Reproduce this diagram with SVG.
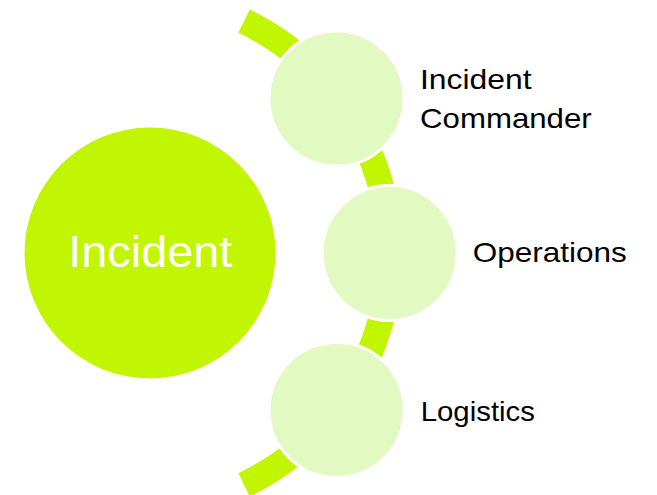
<svg xmlns="http://www.w3.org/2000/svg" width="657" height="495" viewBox="0 0 657 495">
  <style>
    .sub { fill: #E2F9C2; stroke: #FFFFFF; stroke-width: 3; }
    .lbl { font-family: "Liberation Sans", Arial, sans-serif; font-size: 28px; fill: #000000; }
    .main { font-family: "Liberation Sans", Arial, sans-serif; font-size: 45px; fill: #FFFFFF; text-anchor: middle; }
  </style>
  <rect width="657" height="495" fill="#FFFFFF"/>
  <g id="connectors">
    <path d="M 244.1 21.1 A 257.6 257.6 0 0 1 244.1 484.9" fill="none" stroke="#C1F501" stroke-width="26"/>
  </g>
  <g id="node-incident">
    <circle cx="150" cy="253" r="125.5" fill="#C1F501"/>
    <text class="main" x="150.3" y="267" textLength="164" lengthAdjust="spacingAndGlyphs">Incident</text>
  </g>
  <g id="node-commander">
    <circle class="sub" cx="336.5" cy="98.5" r="67.5"/>
    <text class="lbl" x="420" y="89" textLength="111.7" lengthAdjust="spacingAndGlyphs">Incident</text>
    <text class="lbl" x="420" y="127.8" textLength="171.7" lengthAdjust="spacingAndGlyphs">Commander</text>
  </g>
  <g id="node-operations">
    <circle class="sub" cx="389.7" cy="253" r="67.5"/>
    <text class="lbl" x="472.7" y="262.3" textLength="154" lengthAdjust="spacingAndGlyphs">Operations</text>
  </g>
  <g id="node-logistics">
    <circle class="sub" cx="336.7" cy="410" r="67.5"/>
    <text class="lbl" x="420.7" y="420.7" textLength="114.3" lengthAdjust="spacingAndGlyphs">Logistics</text>
  </g>
</svg>
